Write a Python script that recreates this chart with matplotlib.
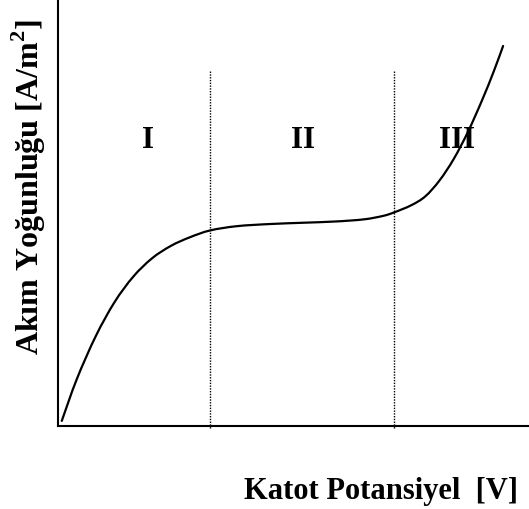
import matplotlib
matplotlib.use('Agg')
import matplotlib.pyplot as plt
import numpy as np
from matplotlib.path import Path
from matplotlib.patches import PathPatch

plt.rcParams['font.family'] = ['Liberation Serif', 'DejaVu Serif']

# cathode potential vs current density (arbitrary units)
potansiyel = [0.08, 0.40, 0.80, 1.20, 1.60, 2.00, 2.40, 2.80, 3.23, 3.80,
              4.50, 5.20, 5.90, 6.50, 6.90, 7.13, 7.50, 7.80, 8.10, 8.40,
              8.70, 9.00, 9.25, 9.45]
akim = [0.12, 1.10, 2.10, 2.90, 3.50, 3.93, 4.22, 4.42, 4.58, 4.68,
        4.73, 4.76, 4.79, 4.84, 4.92, 5.00, 5.17, 5.38, 5.75, 6.25,
        6.88, 7.62, 8.30, 8.90]

sinirlar = [3.23, 7.13]          # region borders
sinir_ust = 8.31
bolgeler = ['I', 'II', 'III']
bolge_x = [1.91, 5.20, 8.47]
bolge_y = 6.72

fig = plt.figure(figsize=(5.29, 5.10), dpi=100)
ax = fig.add_axes([58 / 529, 83 / 510, 1 - 58 / 529, 1 - 83 / 510])
ax.set_xlim(0, 10)
ax.set_ylim(0, 10)

# smooth curve through the points: catmull-rom segments as cubic beziers
p = np.column_stack([potansiyel, akim])
verts = [p[0]]
codes = [Path.MOVETO]
for i in range(len(p) - 1):
    p0 = p[i - 1] if i > 0 else p[i]
    p3 = p[i + 2] if i + 2 < len(p) else p[i + 1]
    c1 = p[i] + (p[i + 1] - p0) / 6
    c2 = p[i + 1] - (p3 - p[i]) / 6
    verts += [c1, c2, p[i + 1]]
    codes += [Path.CURVE4] * 3
ax.add_patch(PathPatch(Path(verts, codes), facecolor='none',
                       edgecolor='black', lw=1.6, capstyle='round'))

for s in sinirlar:
    ax.plot([s, s], [-0.05, sinir_ust], color='black', lw=1.0,
            linestyle=(0, (1, 1)), clip_on=False)

for lab, bx in zip(bolgeler, bolge_x):
    ax.text(bx, bolge_y, lab, ha='center', va='center',
            fontsize=22.5, fontweight='bold')

for side in ['top', 'right']:
    ax.spines[side].set_visible(False)
for side in ['left', 'bottom']:
    ax.spines[side].set_linewidth(1.5)
ax.set_xticks([])
ax.set_yticks([])

plt.rcParams['mathtext.fontset'] = 'custom'
plt.rcParams['mathtext.bf'] = 'Liberation Serif:bold'
fig.text(29 / 529, 1 - 187 / 510, r'Akım Yoğunluğu [A/m$^{\mathbf{2}}$]', rotation=90,
         ha='center', va='center', fontsize=23, fontweight='bold')
fig.text(381 / 529, 1 - 492 / 510, 'Katot Potansiyel  [V]',
         ha='center', va='center', fontsize=22, fontweight='bold')

fig.savefig('out.png', dpi=100)
